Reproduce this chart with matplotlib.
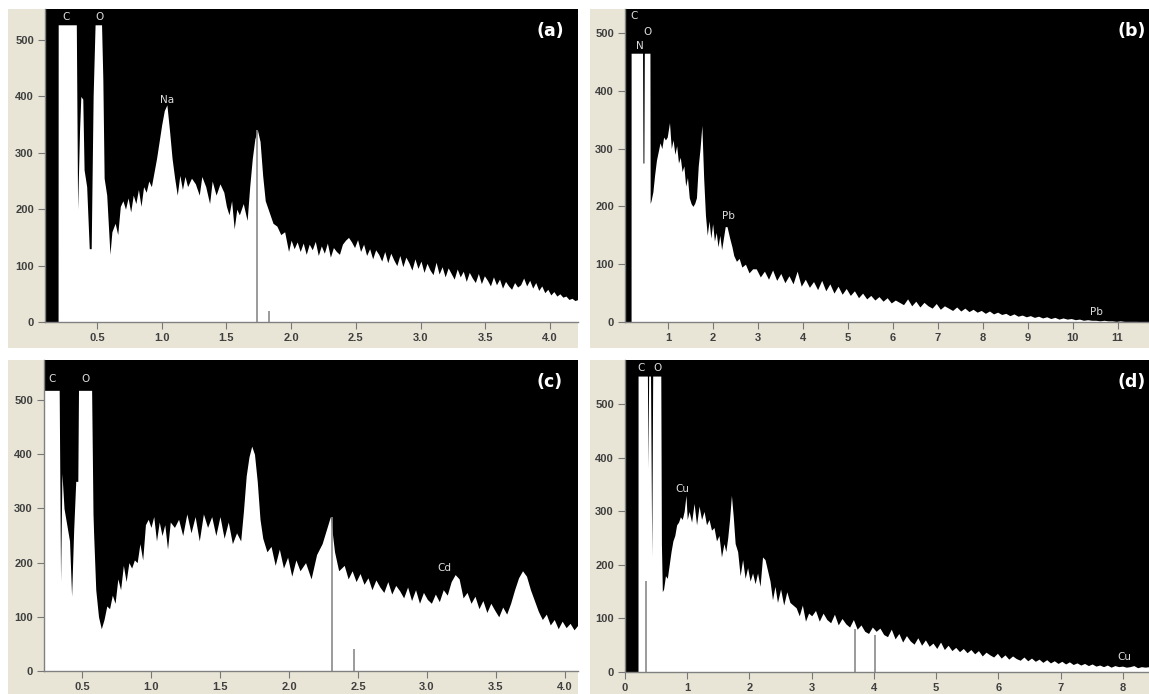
import matplotlib
matplotlib.use('Agg')
import matplotlib.pyplot as plt
import numpy as np
from matplotlib.patches import Rectangle

plt.rcParams['font.family'] = ['Liberation Sans', 'DejaVu Sans']

W, H = 1149, 694
BEIGE = '#e9e5d6'

# panel (a)
a_e = [0.10, 0.199, 0.20, 0.34, 0.35, 0.365, 0.375, 0.39, 0.40, 0.42, 0.44, 0.455, 0.47, 0.485, 0.535, 0.545, 0.555, 0.575,
       0.60, 0.615, 0.64, 0.66, 0.68, 0.70, 0.72, 0.74, 0.76, 0.78, 0.80, 0.82, 0.84, 0.86, 0.88, 0.90, 0.92, 0.94, 0.96, 0.98,
       1.00, 1.02, 1.04, 1.06, 1.08, 1.10, 1.12, 1.14, 1.16, 1.18, 1.20, 1.23, 1.26, 1.29, 1.31, 1.34, 1.37, 1.39, 1.42, 1.45,
       1.48, 1.50, 1.52, 1.54, 1.56, 1.58, 1.60, 1.63, 1.66, 1.68, 1.70, 1.72, 1.74, 1.76, 1.78, 1.80, 1.83, 1.86, 1.89, 1.92,
       1.95, 1.98]
a_c = [0, 0, 527, 527, 200, 340, 400, 395, 270, 240, 130, 130, 400, 527, 527, 430, 255, 225, 120, 160, 175, 155, 205, 215,
       200, 220, 195, 225, 210, 235, 205, 240, 230, 250, 240, 265, 290, 320, 350, 375, 385, 340, 290, 255, 225, 260, 235,
       258, 240, 255, 245, 225, 258, 240, 210, 250, 225, 245, 230, 205, 190, 215, 165, 200, 190, 210, 180, 240, 290,
       325, 340, 320, 260, 215, 195, 175, 170, 155, 160, 125]
a_tail = [145, 130, 142, 125, 140, 120, 138, 128, 143, 118, 135, 122, 140, 115, 132, 125, 120, 138, 145, 150, 142, 132, 146,
          125, 138, 118, 130, 112, 128, 120, 108, 125, 105, 122, 110, 100, 118, 98, 115, 105, 92, 112, 95, 108, 88, 104, 92,
          84, 106, 85, 98, 80, 96, 86, 76, 94, 80, 90, 72, 88, 78, 70, 86, 68, 82, 74, 64, 80, 66, 76, 60, 72, 64, 58, 70, 62,
          66, 78, 64, 74, 60, 70, 56, 64, 52, 58, 48, 54, 46, 50, 44, 46, 40, 42, 38, 40]
a_lines_e = [1.74, 1.83]
a_lines_c = [340, 20]

# panel (b)
b_e = [0.04, 0.175, 0.176, 0.43, 0.44, 0.46, 0.47, 0.595, 0.60, 0.62, 0.66, 0.70, 0.74, 0.78, 0.82, 0.86, 0.90, 0.94, 0.98,
       1.00, 1.03, 1.07, 1.11, 1.15, 1.19, 1.23, 1.27, 1.31, 1.35, 1.39, 1.43, 1.47, 1.51, 1.55, 1.59, 1.63, 1.67, 1.71, 1.75,
       1.79, 1.83, 1.87, 1.91, 1.95, 1.99, 2.03, 2.07, 2.11, 2.15, 2.19, 2.23, 2.27, 2.31, 2.37, 2.42, 2.46, 2.52, 2.58,
       2.64, 2.72, 2.80, 2.88]
b_c = [0, 0, 465, 465, 275, 275, 465, 465, 205, 210, 225, 255, 280, 295, 310, 300, 320, 315, 320, 330, 345, 300, 315, 290,
       305, 275, 285, 260, 270, 235, 250, 215, 205, 200, 205, 215, 270, 300, 340, 250, 185, 150, 175, 145, 170, 140, 155,
       130, 150, 125, 145, 165, 165, 145, 130, 115, 105, 110, 95, 100, 85, 92]
b_tail = [92, 78, 88, 74, 90, 72, 84, 68, 80, 66, 88, 62, 74, 60, 70, 56, 72, 54, 66, 50, 62, 48, 58, 46, 54, 42, 50, 40, 46,
          38, 44, 36, 42, 33, 38, 34, 30, 40, 28, 36, 26, 34, 28, 24, 32, 22, 28, 24, 20, 26, 19, 24, 18, 22, 17, 20, 15, 19,
          14, 17, 13, 15, 11, 14, 10, 12, 9, 11, 8, 10, 7, 9, 6, 8, 5, 7, 5, 6, 4, 5, 3, 4, 3, 3, 2, 3, 2, 2, 1, 2, 1, 1, 1, 1,
          0, 1, 0]
b_lines_e = []
b_lines_c = []

# panel (c)
c_e = [0.225, 0.335, 0.345, 0.355, 0.37, 0.41, 0.425, 0.44, 0.455, 0.47, 0.475, 0.57, 0.58, 0.585, 0.60, 0.62, 0.64, 0.66,
       0.68, 0.70, 0.72, 0.74, 0.76, 0.78, 0.80, 0.82, 0.84, 0.86, 0.88, 0.90, 0.92, 0.94, 0.96, 0.98, 1.00, 1.02, 1.04, 1.06,
       1.08, 1.10, 1.12, 1.14, 1.17, 1.20, 1.23, 1.26, 1.29, 1.32, 1.35, 1.38, 1.41, 1.44, 1.47, 1.50, 1.53, 1.56, 1.59,
       1.62, 1.65, 1.67, 1.69, 1.71, 1.73, 1.75, 1.77, 1.79, 1.81, 1.84, 1.87, 1.90, 1.93, 1.96, 1.99, 2.02, 2.05, 2.08,
       2.12, 2.16, 2.20, 2.24, 2.27, 2.30, 2.33, 2.36]
c_c = [518, 518, 165, 365, 300, 240, 138, 260, 350, 350, 518, 518, 290, 250, 150, 100, 78, 95, 120, 115, 140, 125, 170, 150,
       195, 165, 200, 190, 205, 200, 235, 205, 270, 280, 265, 285, 240, 275, 250, 270, 225, 275, 265, 280, 250, 290, 255,
       285, 240, 290, 265, 285, 250, 285, 245, 275, 235, 255, 240, 295, 360, 395, 415, 400, 350, 280, 245, 220, 230, 195,
       225, 190, 210, 175, 205, 185, 200, 170, 215, 235, 260, 285, 220, 185]
c_tail = [195, 170, 185, 165, 180, 160, 172, 150, 168, 155, 145, 165, 142, 158, 148, 135, 155, 130, 150, 125, 145, 132, 125,
          142, 128, 150, 140, 165, 178, 170, 135, 145, 125, 138, 115, 130, 108, 125, 112, 100, 118, 105, 125, 150, 172, 185,
          175, 150, 130, 110, 95, 105, 85, 95, 78, 92, 80, 88, 76, 85]
c_lines_e = [2.31, 2.47]
c_lines_c = [285, 40]

# panel (d)
d_e = [0.0, 0.209, 0.21, 0.36, 0.37, 0.38, 0.41, 0.43, 0.445, 0.575, 0.585, 0.60, 0.62, 0.65, 0.68, 0.71, 0.74, 0.77, 0.80,
       0.83, 0.86, 0.89, 0.92, 0.95, 0.98, 1.00, 1.03, 1.07, 1.11, 1.15, 1.19, 1.23, 1.27, 1.31, 1.35, 1.39, 1.43, 1.47, 1.51,
       1.55, 1.59, 1.62, 1.65, 1.68, 1.71, 1.74, 1.77, 1.81, 1.85, 1.89, 1.93, 1.97, 2.01, 2.05, 2.09, 2.13, 2.17, 2.21,
       2.25, 2.29, 2.33, 2.37, 2.41, 2.45, 2.50, 2.55, 2.60, 2.65, 2.70, 2.75, 2.80, 2.85, 2.90, 2.95]
d_c = [0, 0, 553, 553, 380, 553, 553, 215, 553, 553, 240, 150, 155, 180, 175, 200, 225, 245, 255, 275, 280, 290, 285, 300,
       330, 285, 300, 280, 315, 275, 310, 285, 300, 275, 285, 265, 270, 245, 255, 215, 240, 225, 250, 285, 330, 290, 240,
       225, 180, 210, 175, 195, 170, 185, 165, 185, 160, 215, 210, 190, 170, 135, 160, 130, 155, 125, 150, 130, 125, 120,
       105, 125, 95, 110]
d_tail = [105, 115, 95, 110, 98, 92, 108, 88, 100, 90, 84, 98, 80, 88, 76, 72, 84, 76, 82, 70, 66, 80, 62, 72, 56, 68, 58, 52,
          64, 50, 60, 48, 54, 44, 56, 42, 50, 40, 46, 38, 44, 36, 42, 34, 40, 30, 37, 32, 28, 35, 26, 32, 24, 30, 25, 22, 28,
          21, 26, 20, 24, 18, 23, 17, 21, 16, 20, 15, 19, 14, 17, 13, 16, 12, 15, 11, 13, 10, 13, 9, 12, 10, 11, 9, 10, 12, 8,
          10, 9, 10]
d_lines_e = [0.34, 3.70, 4.02]
d_lines_c = [170, 80, 70]

a_ticks = [0.5, 1.0, 1.5, 2.0, 2.5, 3.0, 3.5, 4.0]
b_ticks = [1, 2, 3, 4, 5, 6, 7, 8, 9, 10, 11]
c_ticks = [0.5, 1.0, 1.5, 2.0, 2.5, 3.0, 3.5, 4.0]
d_ticks = [0, 1, 2, 3, 4, 5, 6, 7, 8]
y_ticks = [0, 100, 200, 300, 400, 500]

fig = plt.figure(figsize=(W / 100, H / 100), dpi=100, facecolor='white')


def panel(box, bg, xlim, ymax, xt, xfmt, e, c, tail, tail_start, le, lc, tag, tag_px, labels):
    x0, y0, x1, y1 = box
    fig.patches.append(Rectangle((bg[0] / W, 1 - bg[3] / H), (bg[2] - bg[0]) / W, (bg[3] - bg[1]) / H,
                                 transform=fig.transFigure, facecolor=BEIGE, edgecolor='none', zorder=-1))
    ax = fig.add_axes([x0 / W, 1 - y1 / H, (x1 - x0) / W, (y1 - y0) / H])
    ax.set_facecolor('black')
    # tail channels are evenly spaced up to the right edge
    xs = np.concatenate([e, np.linspace(tail_start, xlim[1], len(tail))])
    ys = np.concatenate([c, tail])
    ax.fill_between(xs, ys, 0, color='white', lw=0)
    if le:
        ax.vlines(le, 0, lc, color='#8a8a8a', lw=1.2)
    ax.set_xlim(*xlim)
    ax.set_ylim(0, ymax)
    ax.set_xticks(xt)
    ax.set_xticklabels([xfmt % t for t in xt])
    ax.set_yticks(y_ticks)
    ax.tick_params(length=5, width=0.8, color='#777777', labelsize=8, labelcolor='#3f3f3f', pad=3)
    for lab in ax.get_xticklabels() + ax.get_yticklabels():
        lab.set_fontweight('bold')
    for name in ['top', 'right']:
        ax.spines[name].set_visible(False)
    for name in ['left', 'bottom']:
        ax.spines[name].set_color('#808080')
        ax.spines[name].set_linewidth(1.0)
    # peak labels and panel letter sit at picture positions
    for s, px, py in labels:
        fig.text(px / W, 1 - py / H, s, color='#dddddd', fontsize=7.5, ha='center', va='center',
                 family=['DejaVu Sans'])
    fig.text(tag_px[0] / W, 1 - tag_px[1] / H, tag, color='white', fontsize=12.5, fontweight='bold',
             ha='center', va='center', family=['DejaVu Sans'])


panel((45, 9, 578, 322), (8, 9, 578, 348), (0.098, 4.217), 555, a_ticks, '%.1f', a_e, a_c, a_tail, 2.0,
      a_lines_e, a_lines_c, '(a)', (550, 31), [('C', 66, 17), ('O', 99, 17), ('Na', 167, 100)])
panel((625, 9, 1149, 322), (590, 9, 1149, 348), (0.04, 11.7), 541.5, b_ticks, '%d', b_e, b_c, b_tail, 2.96,
      b_lines_e, b_lines_c, '(b)', (1132, 31),
      [('C', 634, 16), ('O', 647, 32), ('N', 640, 46), ('Pb', 728, 216), ('Pb', 1096, 312)])
panel((44, 360, 578, 671), (8, 360, 578, 694), (0.225, 4.094), 574, c_ticks, '%.1f', c_e, c_c, c_tail, 2.40,
      c_lines_e, c_lines_c, '(c)', (550, 382), [('C', 52, 379), ('O', 85, 379), ('Cd', 444, 568)])
panel((625, 360, 1149, 672), (590, 360, 1149, 694), (0.0, 8.42), 583, d_ticks, '%d', d_e, d_c, d_tail, 3.0,
      d_lines_e, d_lines_c, '(d)', (1132, 382),
      [('C', 641, 368), ('O', 657, 368), ('Cu', 682, 489), ('Cu', 1124, 657)])

fig.savefig('out.png', dpi=100, facecolor='white')
